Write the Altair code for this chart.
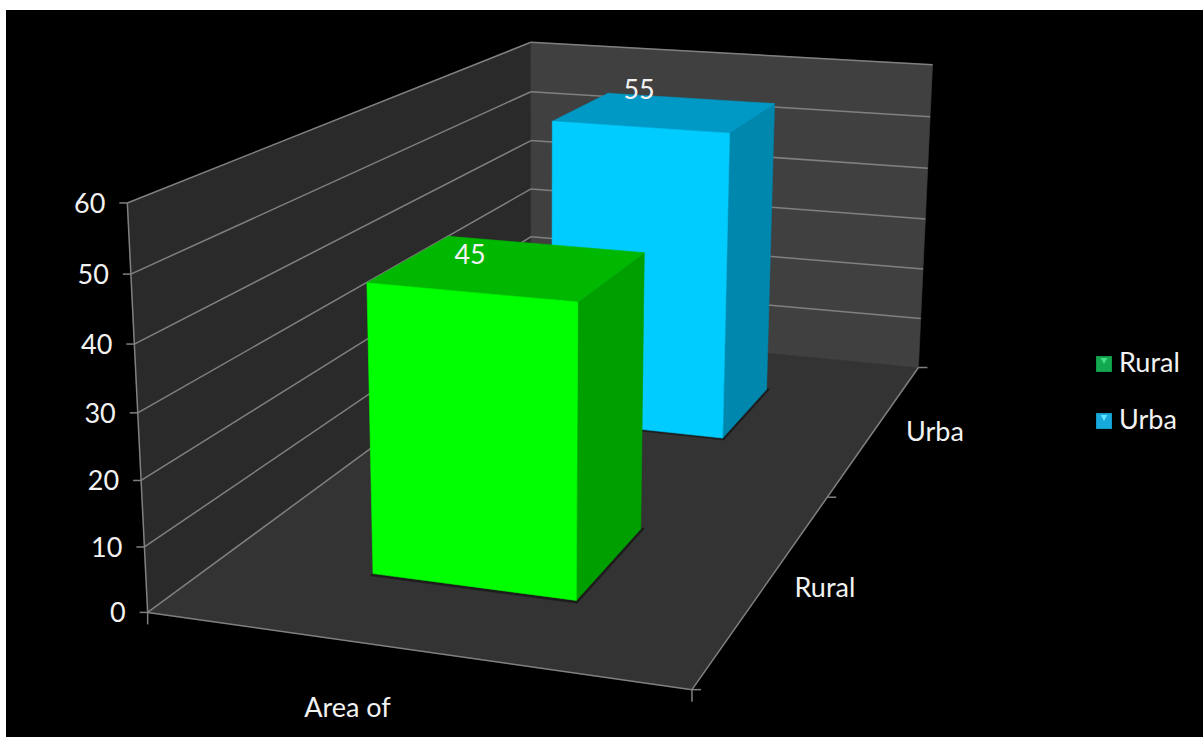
import altair as alt
import numpy as np
import pandas as pd

# Chart content
categories = ["Rural", "Urba"]
values = [45, 55]
value_ticks = [0, 10, 20, 30, 40, 50, 60]
front_label = "Area of"

WIDTH, HEIGHT = 1203, 737
FONT = "Lato"
FONT_SIZE = 27
TEXT = "#f2f2f2"
GRID = "#808080"
FLOOR, LEFT_WALL, BACK_WALL = "#333333", "#2a2a2a", "#404040"
FACE_COLORS = {
    "Rural": {"front": "#00ff00", "top": "#00b800", "side": "#009f00"},
    "Urba": {"front": "#00ccff", "top": "#0099c6", "side": "#0087ad"},
}
LEGEND_COLORS = {"Rural": ("#11a850", "#45e080"), "Urba": ("#17a9dc", "#5fe4ff")}

# Camera: calibrates box coordinates (across, value, depth) to the page.
CALIBRATION = [
    ((0, 0, 0), (147, 612)), ((1, 0, 0), (692, 690)),
    ((1, 0, 1), (918, 367)), ((0, 0, 1), (532, 331)),
    ((0, 60, 0), (128, 203)), ((0, 60, 1), (530, 42)),
    ((1, 60, 1), (933, 65)),
]
rows = []
for (a, b, c), (sx, sy) in CALIBRATION:
    rows.append([a, b, c, 1, 0, 0, 0, 0, -sx * a, -sx * b, -sx * c, -sx])
    rows.append([0, 0, 0, 0, a, b, c, 1, -sy * a, -sy * b, -sy * c, -sy])
CAMERA = np.linalg.svd(np.array(rows, dtype=float))[2][-1].reshape(3, 4)


def project(across, value, depth):
    p = CAMERA @ np.array([across, value, depth, 1.0])
    return p[0] / p[2], p[1] / p[2]


X = alt.X("x:Q", scale=alt.Scale(domain=[0, WIDTH]), axis=None)
Y = alt.Y("y:Q", scale=alt.Scale(domain=[HEIGHT, 0]), axis=None)


def polygon(corners, color):
    pts = [project(*c) for c in corners]
    pts.append(pts[0])
    df = pd.DataFrame({"x": [p[0] for p in pts], "y": [p[1] for p in pts], "i": range(len(pts))})
    return alt.Chart(df).mark_line(fill=color, stroke=color, strokeWidth=0.6, interpolate="linear").encode(
        X, Y, order="i:Q"
    )


def segment_rows(a, b):
    (x, y), (x2, y2) = project(*a), project(*b)
    return {"x": x, "y": y, "x2": x2, "y2": y2}


layers = []

# Page: thin white strip at top and left, black everywhere else.
layers.append(
    alt.Chart(pd.DataFrame({"x": [6], "x2": [WIDTH], "y": [10], "y2": [HEIGHT]}))
    .mark_rect(color="#000000")
    .encode(X, alt.X2("x2"), Y, alt.Y2("y2"))
)

# Walls and floor
top = value_ticks[-1]
layers.append(polygon([(0, 0, 0), (1, 0, 0), (1, 0, 1), (0, 0, 1)], FLOOR))
layers.append(polygon([(0, 0, 0), (0, top, 0), (0, top, 1), (0, 0, 1)], LEFT_WALL))
layers.append(polygon([(0, 0, 1), (0, top, 1), (1, top, 1), (1, 0, 1)], BACK_WALL))

# Gridlines, box edges and ticks
segments = []
for t in value_ticks:
    segments.append(segment_rows((0, t, 0), (0, t, 1)))
    if t > 0:
        segments.append(segment_rows((0, t, 1), (1, t, 1)))
segments.append(segment_rows((0, 0, 0), (0, top, 0)))
segments.append(segment_rows((0, 0, 0), (1, 0, 0)))
segments.append(segment_rows((1, 0, 0), (1, 0, 1)))
layers.append(
    alt.Chart(pd.DataFrame(segments))
    .mark_rule(color=GRID, strokeWidth=1.5)
    .encode(X, alt.X2("x2"), Y, alt.Y2("y2"))
)

ticks = []
for t in value_ticks:
    x, y = project(0, t, 0)
    ticks.append({"x": x - 8, "x2": x, "y": y, "y2": y})
for d in np.linspace(0, 1, len(categories) + 1):
    x, y = project(1, 0, d)
    ticks.append({"x": x, "x2": x + 9, "y": y, "y2": y})
for a in (0, 1):
    x, y = project(a, 0, 0)
    ticks.append({"x": x, "x2": x, "y": y, "y2": y + 12})
layers.append(
    alt.Chart(pd.DataFrame(ticks))
    .mark_rule(color=GRID, strokeWidth=1.5)
    .encode(X, alt.X2("x2"), Y, alt.Y2("y2"))
)

# Bars, back row first so the front one overlaps it
U0, U1 = 0.30, 0.697
HALF_DEPTH = 0.098
for idx in reversed(range(len(categories))):
    name, val = categories[idx], values[idx]
    c = (idx + 0.5) / len(categories)
    d0, d1 = c - HALF_DEPTH, c + HALF_DEPTH
    colors = FACE_COLORS[name]
    layers.append(polygon(
        [(U0, 0, d0 - 0.006), (U1 + 0.006, 0, d0 - 0.006), (U1 + 0.006, 0, d1 + 0.003), (U0, 0, d1)],
        "#1c1c1c",
    ))
    layers.append(polygon([(U1, 0, d0), (U1, val, d0), (U1, val, d1), (U1, 0, d1)], colors["side"]))
    layers.append(polygon([(U0, val, d0), (U1, val, d0), (U1, val, d1), (U0, val, d1)], colors["top"]))
    layers.append(polygon([(U0, 0, d0), (U1, 0, d0), (U1, val, d0), (U0, val, d0)], colors["front"]))


def label_layer(rows_, align="center"):
    return (
        alt.Chart(pd.DataFrame(rows_))
        .mark_text(font=FONT, fontSize=FONT_SIZE, color=TEXT, align=align, baseline="middle")
        .encode(X, Y, text="t:N")
    )


# Axis labels and value labels
value_rows = []
for t in value_ticks:
    x, y = project(0, t, 0)
    value_rows.append({"x": x - 22, "y": y + 2, "t": str(t)})
layers.append(label_layer(value_rows, align="right"))

fx, fy = project(0.5, 0, 0)
layers.append(label_layer([{"x": fx - 62, "y": fy + 59, "t": front_label}]))

cat_rows = []
for idx, name in enumerate(categories):
    x, y = project(1, 0, (idx + 0.5) / len(categories))
    cat_rows.append({"x": x + 58, "y": y + 6, "t": name})
layers.append(label_layer(cat_rows))

bar_rows = []
for idx, val in enumerate(values):
    c = (idx + 0.5) / len(categories)
    x, y = project(0.5, val, c - HALF_DEPTH)
    bar_rows.append({"x": x - 1.5, "y": y - 36, "t": str(val)})
layers.append(label_layer(bar_rows))

# Legend
legend_rows = pd.DataFrame({
    "name": categories,
    "x": [1104, 1104],
    "y": [364, 421],
    "lx": [1119, 1119],
    "edge": [LEGEND_COLORS[n][0] for n in categories],
    "glow": [LEGEND_COLORS[n][1] for n in categories],
})
layers.append(
    alt.Chart(legend_rows)
    .mark_square(size=250, opacity=1)
    .encode(X, Y, color=alt.Color("edge:N", scale=None))
)
layers.append(
    alt.Chart(legend_rows)
    .transform_calculate(y2="datum.y - 3")
    .mark_point(shape="triangle-down", size=45, filled=True, opacity=1)
    .encode(X, alt.Y("y2:Q", scale=alt.Scale(domain=[HEIGHT, 0]), axis=None), color=alt.Color("glow:N", scale=None))
)
layers.append(
    alt.Chart(legend_rows)
    .mark_text(font=FONT, fontSize=FONT_SIZE, color=TEXT, align="left", baseline="middle")
    .encode(alt.X("lx:Q", scale=alt.Scale(domain=[0, WIDTH]), axis=None), Y, text="name:N")
)

chart = (
    alt.layer(*layers)
    .properties(width=WIDTH, height=HEIGHT, padding=0, background="#ffffff",
                autosize=alt.AutoSizeParams(type="none"))
    .configure_view(stroke=None)
)
chart.save("out.html", embed_options={"renderer": "svg", "actions": False})
